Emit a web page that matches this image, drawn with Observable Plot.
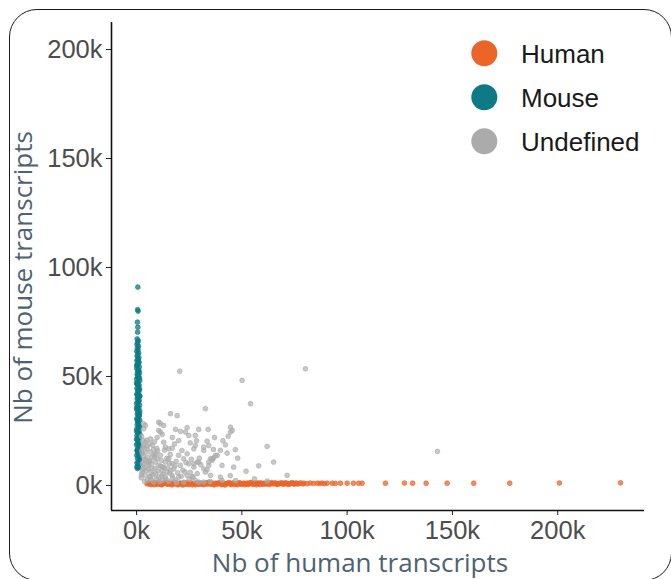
<!DOCTYPE html>
<html>
<head>
<meta charset="utf-8">
<script src="https://cdn.jsdelivr.net/npm/d3@7"></script>
<script src="https://cdn.jsdelivr.net/npm/@observablehq/plot@0.6"></script>
<style>
  body { margin: 0; background: #fff; }
  #wrap { position: relative; width: 671px; height: 579px; overflow: hidden; background: #fff; }
  #border { position: absolute; left: 9px; top: 9px; width: 663px; height: 572px; border: 1.5px solid #1a1a1a; border-radius: 28px; box-sizing: border-box; pointer-events: none; }
  #chart { position: absolute; left: 0; top: 0; }
  #overlay { position: absolute; left: 0; top: 0; }
  #chart g[aria-label$="tick label"] { fill: #4d4d4d; }
</style>
</head>
<body>
<div id="wrap">
  <div id="chart"></div>
  <svg id="overlay" width="671" height="579"></svg>
  <div id="border"></div>
</div>
<script>
// ---------- data (values in thousands of transcripts) ----------
const categories = ["Human", "Mouse", "Undefined"];
const colors = ["#EC6528", "#0E7A85", "#ABABAB"];

const xTicks = [0, 50, 100, 150, 200];
const yTicks = [0, 50, 100, 150, 200];
const xDomain = [-11.9, 241.2];
const yDomain = [-11.5, 212.4];

// Human cells: many human transcripts, few mouse transcripts
const humanBandX1 = [5,6,7,8,9,10,11,12,13,14,15,16,17,18,19,20,21,22,23,24,25,26,27,28,29,30,31,32,33,34,35,36,37,38,39,40,41,42,43,44,45,46,47,48,49,50,51,52,53,54,55,56,57,58,59,60,61,62,63,64,65,66,67,68,69,70,71,72,73,74,75,76,77,78,79];
const humanBandY1 = [0.7,1.2,0.4,0.9,1.3,0.5,1.0,0.3,0.8,1.4,0.6,1.1,0.3,0.9,1.2,0.5,1.0,0.2,0.7,1.3,0.4,1.1,0.8,0.3,1.2,0.6,1.0,0.4,0.9,1.4,0.5,1.1,0.3,0.8,1.2,0.6,1.0,0.2,0.9,1.3,0.4,1.1,0.7,0.3,1.2,0.5,1.0,0.8,0.4,1.3,0.6,1.1,0.3,0.9,1.2,0.5,0.8,1.0,0.4,1.3,0.7,1.1,0.5,0.9,1.2,0.6,1.0,0.4,0.8,1.3,0.6,1.0,0.8,1.2,0.7];
const humanBandX2 = [5.5,6.5,7.5,8.5,9.5,10.5,11.5,12.5,13.5,14.5,15.5,16.5,17.5,18.5,19.5,20.5,21.5,22.5,23.5,24.5,25.5,26.5,27.5,28.5,29.5,30.5,31.5,32.5,33.5,34.5,35.5,36.5,37.5,38.5,39.5,40.5,41.5,42.5,43.5,44.5,45.5,46.5,47.5,48.5,49.5,50.5,51.5,52.5,53.5,54.5,55.5,56.5,57.5,58.5,59.5,60.5,61.5,62.5,63.5,64.5,65.5,66.5,67.5,68.5,69.5,70.5,71.5,72.5,73.5,74.5,75.5,76.5];
const humanBandY2 = [1.0,0.5,1.2,0.3,0.8,1.1,0.4,0.9,1.3,0.6,0.9,0.4,1.2,0.7,0.3,1.0,0.6,1.3,0.5,0.8,1.1,0.3,0.7,1.2,0.5,0.9,0.4,1.1,0.6,1.3,0.8,0.4,1.0,0.6,1.2,0.3,0.9,0.7,1.1,0.5,1.0,0.4,0.8,1.2,0.6,0.9,0.3,1.1,0.7,1.3,0.5,0.9,1.2,0.4,0.8,1.0,0.6,1.2,0.7,0.9,1.1,0.5,0.8,1.0,0.6,1.2,0.9,0.7,1.1,0.8,1.0,0.7];
const humanTailX = [79.5,81,82.5,84,85.8,87,88.1,89.3,90.5,92.9,94.4,96.8,100,103,105.5,107.1,118.2,127.2,131.1,137.5,147.5,160.1,177.2,200.8,229.8];
const humanTailY = [1.0,0.8,1.1,0.9,1.0,0.9,1.1,0.8,1.0,1.0,0.9,1.0,1.0,1.0,1.0,1.0,1.0,1.1,1.0,1.0,1.0,1.0,1.0,1.1,1.2];

// Mouse cells: many mouse transcripts, few human transcripts
const mouseX = [0.6,0.5,0.7,0.4,0.6,0.5,0.3,0.8,0.5,0.2,0.9,0.4,0.7,0.1,1.0,0.5,0.3,1.1,0.6,0.2,1.2,0.8,0.4,1.3,0.1,0.9,0.5,1.4,0.3,1.0,0.6,0.0,1.5,0.7,0.3,1.2,0.9,0.2,1.4,0.5,1.0,0.1,1.5,0.6,0.3,1.2,0.8,0.0,1.4,0.5,1.1,0.2,1.5,0.7,0.4,1.3,0.9,0.1,1.5,0.6,1.0,0.3,1.4,0.8,0.0,1.2,0.5,1.5,0.2,0.9,1.3,0.4,1.1,0.7,0.0,1.5,0.6,1.0,0.3,1.4,0.8,0.1,1.2,0.5,1.5,0.9,0.2,1.3,0.6,1.0,0.4,
  0.8,0.2,1.1,0.6,0.0,1.3,0.4,1.0,0.2,1.4,0.6,0.9,0.1,1.2,0.7,0.3,1.1,0.8,0.2,1.4,0.5,1.3,0.0,0.9,1.5,0.4,1.2,0.1,0.7,1.5,0.9,0.3,1.4,0.7,0.2];
const mouseY = [91,80.6,80.0,74.9,72.6,70.3,67.2,66.4,65.6,64.7,63.9,63.1,62.3,61.6,60.8,60.1,59.3,58.6,57.9,57.2,56.5,55.8,55.1,54.4,53.7,53.0,52.3,51.6,50.9,50.2,49.5,48.8,48.1,47.4,46.7,46.0,45.3,44.6,43.9,43.2,42.5,41.8,41.1,40.4,39.7,39.0,38.3,37.6,36.9,36.2,35.5,34.8,34.1,33.4,32.7,32.0,31.3,30.6,29.9,29.2,28.5,27.8,27.1,26.4,25.7,25.0,24.3,23.6,22.9,22.2,21.5,20.8,20.1,19.4,18.7,18.0,17.3,16.6,15.9,15.2,14.5,13.8,13.1,12.4,11.7,11.0,10.3,9.6,8.9,8.2,7.8,
  57.5,54.8,52.6,50.6,47.0,44.3,41.4,38.7,35.9,33.0,30.2,27.4,24.7,21.9,19.0,16.2,13.5,10.7,8.5,12.8,15.5,18.4,21.2,24.0,26.8,29.6,32.4,35.2,38.0,40.8,43.6,46.4,49.2,52.0,55.5];

// Undefined (mixed) cells
const undefX = [20.5,80.2,50.1,54.1,32.7,16.1,142.9,62.0,65.1,71.5,62.0,
  10.5,12.9,11.3,3.4,4.2,3.4,10.5,11.3,18.5,20.8,23.2,24.8,29.5,34.0,27.9,44.6,44.6,45.4,6.6,4.2,20.0,12.2,33.5,13.7,15.3,16.9,27.9,27.2,31.9,34.3,31.9,42.2,39.8,46.9,43.0,3.4,5.0,6.6,4.2,9.0,11.3,9.8,20.0,24.0,22.4,15.3,13.7,16.9,38.3,36.7,35.9,34.3,37.5,35.1,4.2,5.8,7.4,9.0,10.5,12.1,14.5,17.7,20.8,24.8,27.2,28.8,31.9,34.3,35.9,40.6,46.1,33.5,2.6,4.2,6.6,9.0,10.5,13.7,16.9,20.0,24.0,26.4,28.8,32.7,35.1,39.8,40.6,5.0,8.2,12.1,15.3,18.5,22.4,27.9,31.9,29.5,29.5,27.2,
  2.4,3.0,2.5,3.2,2.8,3.5,5.2,6.0,7.2,8.0,7.5,8.5,6.8,8.8,11.8,12.5,14.8,18.8,19.5,22.0,23.5,25.5,26.0,29.8,30.5,21.5,18.0,25.5,28.5,37.0,41.0,36.5,24.0,17.0,2.2,3.8,7.0,11.0,19.0,25.0,35.0,44.5,48.0,52.0,56.0,47.0,58.0,43.5,19.3,
  2.3,3.1,4.6,5.5,6.2,7.8,9.4,10.2,11.9,13.1,14.0,15.8,17.2,2.7,4.0,5.6,7.1,8.6,10.0,12.6,14.4,16.3,18.2,21.2,3.6,5.0,6.4,8.2,9.6,11.5,13.3,15.6,23.0,26.8,3.0,4.8,6.3,9.8,12.9,16.0];
const undefY = [52.4,53.5,48.2,37.5,35.2,32.9,15.6,17.9,10.7,4.6,2.0,
  29.0,27.5,28.3,26.0,27.5,28.3,25.2,24.5,25.7,24.8,24.5,22.9,25.7,25.7,22.9,26.7,24.5,25.2,21.4,19.9,20.6,23.4,20.3,17.6,16.8,17.1,18.3,16.8,16.1,18.3,17.6,18.6,16.1,16.4,14.8,18.3,16.8,15.3,15.3,14.5,13.8,12.2,13.8,14.5,12.2,12.2,10.7,9.9,13.8,12.7,11.5,10.7,13.8,12.2,11.5,9.2,7.6,10.7,9.2,6.9,6.1,7.6,9.2,9.9,8.4,10.7,7.6,9.2,12.2,9.2,8.4,7.2,6.1,4.6,3.8,5.4,3.8,3.8,4.6,3.8,4.6,3.8,5.4,6.1,4.6,3.8,2.3,2.3,1.5,2.3,1.9,2.3,1.5,2.3,1.5,1.5,10.7,9.9,
  22.5,20.5,16.0,13.5,10.0,8.2,13.0,11.0,12.8,16.5,18.5,20.0,6.0,7.8,11.5,8.5,8.0,11.0,5.8,7.0,10.5,6.0,12.0,12.5,9.5,16.0,19.0,19.5,20.5,22.0,20.5,16.5,26.5,22.0,3.5,1.8,2.5,1.8,1.2,2.8,1.8,4.5,12.5,6.5,3.0,2.2,9.0,22.5,32.0,
  4.8,7.2,6.8,10.4,4.0,5.0,3.0,6.6,4.4,8.0,2.8,5.6,3.4,14.8,12.0,7.6,9.8,13.0,15.8,5.2,12.4,7.0,9.0,4.2,9.6,18.0,11.2,14.0,17.0,8.8,16.2,10.2,6.2,4.0,17.5,20.8,19.2,22.0,19.8,14.2];

// ---------- build tables ----------
const human = [
  ...humanBandX1.map((x, i) => ({x, y: humanBandY1[i]})),
  ...humanBandX2.map((x, i) => ({x, y: humanBandY2[i]})),
  ...humanTailX.map((x, i) => ({x, y: humanTailY[i]}))
];
const mouse = mouseX.map((x, i) => ({x, y: mouseY[i]}));
const undef = undefX.map((x, i) => ({x, y: undefY[i]}));

const fmt = d => d + "k";
const dotStyle = (c, o) => ({x: "x", y: "y", r: 2.4, fill: c, fillOpacity: o, stroke: c, strokeOpacity: 0.9, strokeWidth: 0.7});

const chart = Plot.plot({
  width: 671,
  height: 579,
  marginLeft: 111,
  marginRight: 27,
  marginTop: 22,
  marginBottom: 69,
  style: {fontSize: "25.5px", fontFamily: "'Liberation Sans', Arial, sans-serif", background: "transparent", overflow: "visible"},
  x: {domain: xDomain, label: null},
  y: {domain: yDomain, label: null},
  marks: [
    Plot.axisX({ticks: xTicks, tickFormat: fmt, tickSize: 5, tickPadding: 5, label: null, stroke: "#222"}),
    Plot.axisY({ticks: yTicks, tickFormat: fmt, tickSize: 5, tickPadding: 4, label: null, stroke: "#222"}),
    Plot.dot(human, dotStyle(colors[0], 0.75)),
    Plot.dot(mouse, dotStyle(colors[1], 0.75)),
    Plot.dot(undef, dotStyle(colors[2], 0.65)),
    Plot.ruleX([xDomain[0]], {stroke: "#111", strokeWidth: 1.6}),
    Plot.ruleY([yDomain[0]], {stroke: "#111", strokeWidth: 1.6})
  ]
});
document.getElementById("chart").appendChild(chart);

// ---------- titles and legend ----------
const ov = d3.select("#overlay");
ov.append("text")
  .attr("x", 360).attr("y", 572)
  .attr("text-anchor", "middle")
  .attr("font-family", "'Open Sans', sans-serif")
  .attr("font-size", 26)
  .attr("fill", "#4e6272")
  .text("Nb of human transcripts");
ov.append("text")
  .attr("transform", "translate(32,277.5) rotate(-90)")
  .attr("text-anchor", "middle")
  .attr("font-family", "'Open Sans', sans-serif")
  .attr("font-size", 26)
  .attr("fill", "#4e6272")
  .text("Nb of mouse transcripts");

const lg = ov.append("g");
categories.forEach((c, i) => {
  const cy = 53.3 + i * 44;
  lg.append("circle").attr("cx", 484.3).attr("cy", cy).attr("r", 13).attr("fill", colors[i]);
  lg.append("text")
    .attr("x", 521).attr("y", cy).attr("dy", "0.36em")
    .attr("font-family", "'Liberation Sans', Arial, sans-serif")
    .attr("font-size", 26)
    .attr("fill", "#1a1a1a")
    .text(c);
});
</script>
</body>
</html>
